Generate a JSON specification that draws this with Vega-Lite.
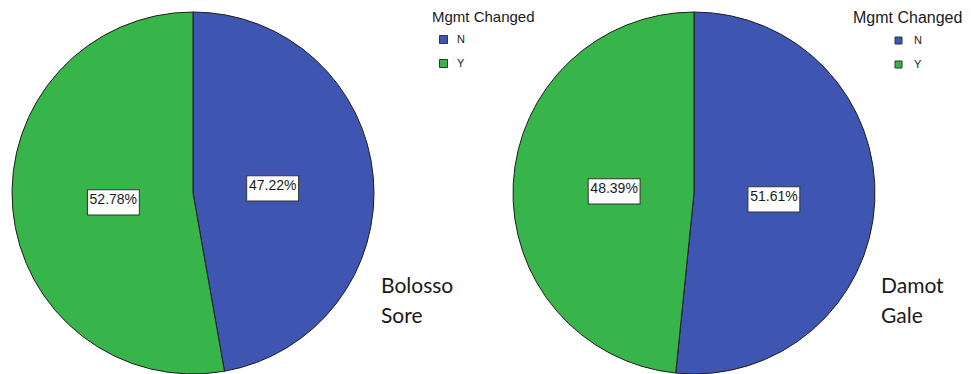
{
  "$schema": "https://vega.github.io/schema/vega-lite/v6.json",
  "width": 971,
  "height": 386,
  "autosize": {"type": "none"},
  "padding": 0,
  "background": "white",
  "config": {"view": {"stroke": null}},
  "data": {
    "values": [
      {"site": "Bolosso Sore", "mgmt": "N", "share": 0.4722},
      {"site": "Bolosso Sore", "mgmt": "Y", "share": 0.5278},
      {"site": "Damot Gale", "mgmt": "N", "share": 0.5161},
      {"site": "Damot Gale", "mgmt": "Y", "share": 0.4839}
    ]
  },
  "encoding": {
    "x": {
      "field": "site",
      "type": "nominal",
      "scale": {"type": "point", "domain": ["Bolosso Sore", "Damot Gale"], "range": [193, 694], "padding": 0},
      "axis": null
    }
  },
  "layer": [
    {
      "transform": [{"filter": "datum.site === 'Bolosso Sore'"}],
      "layer": [
        {
          "mark": {"type": "arc", "outerRadius": 181, "stroke": "#1e1e1e", "strokeWidth": 1},
          "encoding": {
            "theta": {"field": "share", "type": "quantitative", "stack": true, "scale": {"domain": [0, 1]}},
            "order": {"field": "mgmt", "sort": "ascending"},
            "color": {
              "field": "mgmt",
              "type": "nominal",
              "scale": {"domain": ["N", "Y"], "range": ["#3e56b1", "#38b54a"]},
              "legend": {
                "title": "Mgmt Changed",
                "orient": "none",
                "legendX": 432,
                "legendY": 10,
                "titleFont": "Liberation Sans",
                "titleFontSize": 15,
                "titleFontWeight": "normal",
                "titleColor": "#1a1a1a",
                "labelFont": "Liberation Sans",
                "labelFontSize": 11,
                "labelColor": "#1a1a1a",
                "symbolType": "square",
                "symbolSize": 64,
                "symbolStrokeColor": "#333",
                "symbolStrokeWidth": 1,
                "symbolOffset": 6,
                "rowPadding": 11,
                "titlePadding": 9,
                "labelOffset": 8
              }
            }
          }
        },
        {
          "mark": {"type": "text", "radius": 80, "text": "▬", "font": "DejaVu Sans", "fontSize": 68, "fill": "white", "stroke": "#333", "strokeWidth": 1},
          "encoding": {
            "theta": {"field": "share", "type": "quantitative", "stack": true},
            "order": {"field": "mgmt", "sort": "ascending"},
            "detail": {"field": "mgmt"}
          }
        },
        {
          "mark": {"type": "text", "radius": 80, "font": "Liberation Sans", "fontSize": 14, "fill": "#1a1a1a", "baseline": "middle"},
          "encoding": {
            "theta": {"field": "share", "type": "quantitative", "stack": true},
            "order": {"field": "mgmt", "sort": "ascending"},
            "detail": {"field": "mgmt"},
            "text": {"field": "share", "type": "quantitative", "format": ".2%"}
          }
        },
        {
          "transform": [{"filter": "datum.mgmt === 'N'"}],
          "mark": {"type": "text", "dx": 188, "dy": 100, "align": "left", "baseline": "alphabetic", "font": "Lato", "fontSize": 21, "lineBreak": " ", "lineHeight": 30, "fill": "#1a1a1a"},
          "encoding": {"text": {"field": "site"}}
        }
      ]
    },
    {
      "transform": [{"filter": "datum.site === 'Damot Gale'"}],
      "layer": [
        {
          "mark": {"type": "arc", "outerRadius": 181, "stroke": "#1e1e1e", "strokeWidth": 1},
          "encoding": {
            "theta": {"field": "share", "type": "quantitative", "stack": true, "scale": {"domain": [0, 1]}},
            "order": {"field": "mgmt", "sort": "ascending"},
            "color": {
              "field": "mgmt",
              "type": "nominal",
              "scale": {"domain": ["N", "Y"], "range": ["#3e56b1", "#38b54a"]},
              "legend": {
                "title": "Mgmt Changed",
                "orient": "none",
                "legendX": 853,
                "legendY": 10,
                "titleFont": "Liberation Sans",
                "titleFontSize": 16,
                "titleFontWeight": "normal",
                "titleColor": "#1a1a1a",
                "labelFont": "Liberation Sans",
                "labelFontSize": 11,
                "labelColor": "#1a1a1a",
                "symbolType": "square",
                "symbolSize": 49,
                "symbolStrokeColor": "#333",
                "symbolStrokeWidth": 1,
                "symbolOffset": 40,
                "rowPadding": 12,
                "titlePadding": 9,
                "labelOffset": 10
              }
            }
          }
        },
        {
          "mark": {"type": "text", "radius": 80, "text": "▬", "font": "DejaVu Sans", "fontSize": 68, "fill": "white", "stroke": "#333", "strokeWidth": 1},
          "encoding": {
            "theta": {"field": "share", "type": "quantitative", "stack": true},
            "order": {"field": "mgmt", "sort": "ascending"},
            "detail": {"field": "mgmt"}
          }
        },
        {
          "mark": {"type": "text", "radius": 80, "font": "Liberation Sans", "fontSize": 14, "fill": "#1a1a1a", "baseline": "middle"},
          "encoding": {
            "theta": {"field": "share", "type": "quantitative", "stack": true},
            "order": {"field": "mgmt", "sort": "ascending"},
            "detail": {"field": "mgmt"},
            "text": {"field": "share", "type": "quantitative", "format": ".2%"}
          }
        },
        {
          "transform": [{"filter": "datum.mgmt === 'N'"}],
          "mark": {"type": "text", "dx": 187, "dy": 100, "align": "left", "baseline": "alphabetic", "font": "Lato", "fontSize": 21, "lineBreak": " ", "lineHeight": 30, "fill": "#1a1a1a"},
          "encoding": {"text": {"field": "site"}}
        }
      ]
    }
  ],
  "resolve": {"scale": {"color": "independent"}}
}
